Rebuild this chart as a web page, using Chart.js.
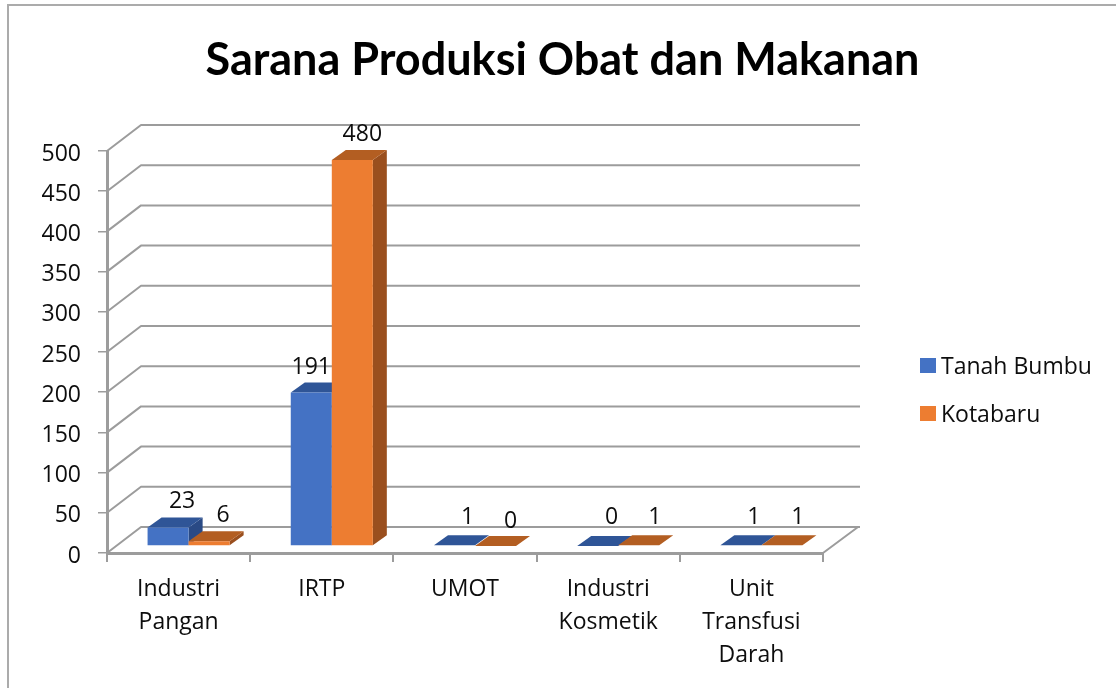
<!DOCTYPE html>
<html>
<head>
<meta charset="utf-8">
<style>html,body{margin:0;padding:0;background:#fff}canvas{display:block}</style>
<script src="https://cdn.jsdelivr.net/npm/chart.js@4"></script>
</head>
<body>
<div style="width:1116px;height:688px"><canvas id="c" width="1116" height="688"></canvas></div>
<script>
const titleText = 'Sarana Produksi Obat dan Makanan';
const categories = [['Industri','Pangan'],['IRTP'],['UMOT'],['Industri','Kosmetik'],['Unit','Transfusi','Darah']];
const tanahBumbu = [23,191,1,0,1];
const kotabaru = [6,480,0,1,1];
const seriesNames = ['Tanah Bumbu','Kotabaru'];
const yTicks = {min:0,max:500,step:50};

const FONT = '"Open Sans"';
const TXT = '#0d0d0d', GRID = '#9c9c9c';
const wall = {dx:34, dy:26, right:860};
const bar3d = {shiftX:10, shiftY:7, dx:14, dy:10};
const faces = [
  {front:'#4472C4', top:'#2F5597', side:'#2A4A85'},
  {front:'#ED7D31', top:'#B35E22', side:'#9A4F1E'}
];
// label nudges relative to the bar's top-back edge (style only)
const labelNudge = [
  [[14,-16],[0,-15],[13,-18],[14,-19],[13,-18]],
  [[14,-16],[10,-16],[15,-15],[16,-18],[16,-18]]
];

const scene = {
  id:'scene',
  afterLayout(chart){
    const t = chart.titleBlock;
    t.left = 9; t.right = 1116;
  },
  beforeDraw(chart){
    const {ctx} = chart;
    ctx.save();
    ctx.strokeStyle = '#ababab'; ctx.lineWidth = 2;
    ctx.beginPath(); ctx.moveTo(1116,5); ctx.lineTo(8,5); ctx.lineTo(8,688); ctx.stroke();
    ctx.restore();
  },
  beforeDatasetsDraw(chart){
    const {ctx, scales:{y}} = chart;
    const {left,right,bottom} = chart.chartArea;
    ctx.save();
    ctx.strokeStyle = GRID; ctx.lineWidth = 2;
    ctx.lineJoin = 'round';
    y.ticks.forEach(t=>{
      const py = y.getPixelForValue(t.value);
      ctx.beginPath();
      ctx.moveTo(left,py);
      ctx.lineTo(left+wall.dx,py-wall.dy);
      ctx.lineTo(wall.right,py-wall.dy);
      ctx.stroke();
    });
    ctx.beginPath();
    ctx.moveTo(left,bottom); ctx.lineTo(right,bottom);
    ctx.lineTo(wall.right-2,bottom-wall.dy);
    ctx.stroke();
    ctx.restore();
  },
  // series are painted left to right so the right-hand bar sits in front of its neighbour's side face
  beforeDatasetDraw(){ return false; },
  afterDatasetsDraw(chart){
    const {ctx} = chart;
    chart.data.datasets.forEach((ds,i)=>{
      const meta = chart.getDatasetMeta(i);
      const f = faces[i];
      ctx.save();
      ctx.translate(bar3d.shiftX,-bar3d.shiftY);
      meta.data.forEach(el=>{
        const p = el.getProps(['x','y','base','width'],true);
        const l = p.x-p.width/2, r = p.x+p.width/2;
        const {dx,dy} = bar3d;
        ctx.fillStyle = f.side;
        ctx.beginPath();
        ctx.moveTo(r,p.y); ctx.lineTo(r+dx,p.y-dy); ctx.lineTo(r+dx,p.base-dy); ctx.lineTo(r,p.base);
        ctx.closePath(); ctx.fill();
        ctx.fillStyle = f.top;
        ctx.beginPath();
        ctx.moveTo(l,p.y); ctx.lineTo(r,p.y); ctx.lineTo(r+dx,p.y-dy); ctx.lineTo(l+dx,p.y-dy);
        ctx.closePath(); ctx.fill();
      });
      meta.controller.draw();
      ctx.restore();
    });

    ctx.save();
    ctx.font = '23px '+FONT;
    ctx.fillStyle = TXT;
    ctx.textAlign = 'center';
    ctx.textBaseline = 'middle';
    chart.data.datasets.forEach((ds,i)=>{
      chart.getDatasetMeta(i).data.forEach((el,j)=>{
        const p = el.getProps(['x','y'],true);
        const [nx,ny] = labelNudge[i][j];
        ctx.fillText(String(ds.data[j]), p.x+bar3d.shiftX+nx, p.y-bar3d.shiftY-bar3d.dy+ny);
      });
    });
    // legend
    const lx = 920, ly = [358,406];
    ctx.textAlign = 'left';
    chart.data.datasets.forEach((ds,i)=>{
      ctx.fillStyle = ds.backgroundColor;
      ctx.fillRect(lx,ly[i],16,15);
      ctx.fillStyle = TXT;
      ctx.fillText(ds.label, lx+21, ly[i]+9);
    });
    ctx.restore();
  }
};

new Chart(document.getElementById('c'),{
  type:'bar',
  data:{
    labels:categories,
    datasets:[
      {label:seriesNames[0],data:tanahBumbu,backgroundColor:faces[0].front,clip:false},
      {label:seriesNames[1],data:kotabaru,backgroundColor:faces[1].front,clip:false}
    ]
  },
  options:{
    responsive:false,
    animation:false,
    layout:{padding:{left:0,right:293,top:0,bottom:0}},
    datasets:{bar:{barPercentage:1,categoryPercentage:0.573}},
    plugins:{
      legend:{display:false},
      tooltip:{enabled:false},
      title:{display:true,text:titleText,color:'#000',
        font:{family:'Lato',size:45,weight:'bold',lineHeight:1.2},
        padding:{top:33,bottom:64}}
    },
    scales:{
      x:{
        afterFit(s){s.height=135;},
        grid:{drawOnChartArea:false,drawTicks:true,tickLength:9,color:GRID,lineWidth:2},
        border:{color:GRID,width:3},
        ticks:{color:TXT,font:{family:FONT,size:23,lineHeight:1.43},padding:11,maxRotation:0,autoSkip:false}
      },
      y:{
        min:yTicks.min,max:yTicks.max,
        afterFit(s){s.width=107;},
        grid:{drawOnChartArea:false,drawTicks:true,tickLength:9,color:GRID,lineWidth:1.5},
        border:{color:GRID,width:3},
        ticks:{stepSize:yTicks.step,color:TXT,font:{family:FONT,size:23},padding:17,labelOffset:3}
      }
    }
  },
  plugins:[scene]
});
</script>
</body>
</html>
